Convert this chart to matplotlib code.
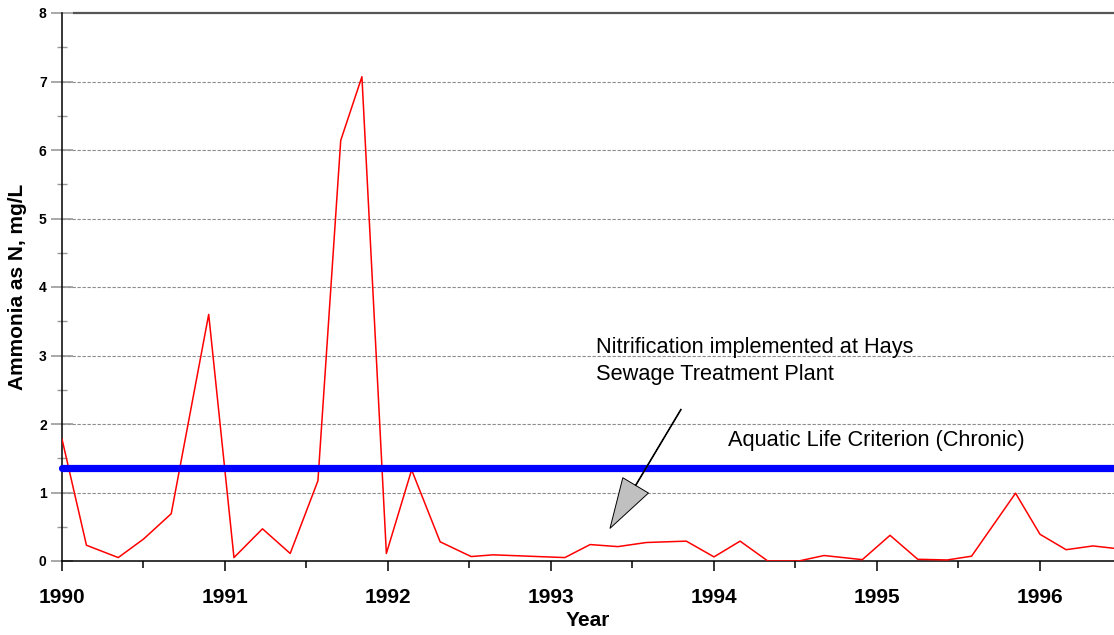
"""
Ammonia as N at the monitoring station, 1990-1996.
"""

import matplotlib
matplotlib.use('Agg')
import matplotlib.pyplot as plt
from matplotlib.ticker import MultipleLocator

# sample dates (decimal years) and ammonia concentrations (mg/L)
years = [1990.00, 1990.15, 1990.345, 1990.50, 1990.67, 1990.90, 1991.055, 1991.23,
         1991.40, 1991.57, 1991.71, 1991.84, 1991.99, 1992.145, 1992.32, 1992.51,
         1992.645, 1993.085, 1993.24, 1993.41, 1993.585, 1993.83, 1994.00, 1994.16,
         1994.33, 1994.52, 1994.675, 1994.91, 1995.08, 1995.25, 1995.43, 1995.58,
         1995.85, 1996.00, 1996.16, 1996.325, 1996.455]
ammonia = [1.78, 0.23, 0.05, 0.32, 0.69, 3.60, 0.05, 0.47,
           0.11, 1.17, 6.14, 7.07, 0.11, 1.33, 0.28, 0.065,
           0.09, 0.05, 0.24, 0.21, 0.27, 0.29, 0.06, 0.29,
           0.0, 0.0, 0.08, 0.02, 0.375, 0.025, 0.015, 0.07,
           0.99, 0.39, 0.165, 0.22, 0.185]

criterion = 1.36
year_ticks = [1990, 1991, 1992, 1993, 1994, 1995, 1996]
x_range = (1990, 1996.454)
y_range = (0, 8)

criterion_label = 'Aquatic Life Criterion (Chronic)'
note_label = 'Nitrification implemented at Hays\nSewage Treatment Plant'
note_tip = (1993.362, 0.477)
note_tail = (1993.798, 2.215)

plt.rcParams['font.family'] = ['Liberation Sans', 'DejaVu Sans']

fig = plt.figure(figsize=(11.14, 6.35), dpi=100)
ax = fig.add_axes([62 / 1114, 74 / 635, 1052 / 1114, 548 / 635])

ax.set_xlim(*x_range)
ax.set_ylim(*y_range)

# horizontal grid
for v in range(1, 8):
    ax.axhline(v, color='#8c8c8c', lw=0.8, linestyle=(0, (3, 1.5)), zorder=1)
ax.axhline(8, xmin=12 / 1052, color='#555555', lw=1.6, zorder=1, clip_on=False)

ax.plot(years, ammonia, color='red', lw=1.1, zorder=3)
ax.plot([x_range[0], x_range[1] + 0.1], [criterion, criterion], color='#0000ff',
        lw=5.2, solid_capstyle='round', zorder=4, clip_on=False)

ax.text(1994.086, 1.68, criterion_label, fontsize=15.7, ha='left', va='baseline')
# baseline here is the one of the last line
ax.text(1993.276, 2.642, note_label, fontsize=15.7, ha='left', va='baseline',
        linespacing=1.4)
ax.annotate('', xy=note_tip, xytext=note_tail,
            arrowprops=dict(width=0.5, headwidth=21.5, headlength=36,
                            facecolor='#c0c0c0', edgecolor='black', linewidth=0.7),
            zorder=5)

ax.set_xticks(year_ticks)
ax.set_xticklabels([str(y) for y in year_ticks])
ax.xaxis.set_minor_locator(MultipleLocator(0.5))
ax.yaxis.set_major_locator(MultipleLocator(1))
ax.yaxis.set_minor_locator(MultipleLocator(0.5))

ax.spines['top'].set_visible(False)
ax.spines['right'].set_visible(False)
ax.spines['left'].set_linewidth(1.1)
ax.spines['bottom'].set_linewidth(1.1)

ax.tick_params(axis='x', which='major', direction='out', length=7.5, width=1.1,
               pad=12, labelsize=15)
ax.tick_params(axis='x', which='minor', direction='out', length=5, width=1.1)
ax.tick_params(axis='y', which='major', direction='inout', length=16, width=1.2,
               color='#999999', pad=3, labelsize=10)
ax.tick_params(axis='y', which='minor', direction='inout', length=7.5, width=1.0,
               color='#999999')
for lab in ax.get_xticklabels() + ax.get_yticklabels():
    lab.set_fontweight('bold')

ax.set_xlabel('Year', fontsize=15, fontweight='bold', labelpad=3)
ax.set_ylabel('Ammonia as N, mg/L', fontsize=15, fontweight='bold')
ax.yaxis.set_label_coords(-0.0333, 0.5)

fig.savefig('out.png', dpi=100)
plt.close(fig)
